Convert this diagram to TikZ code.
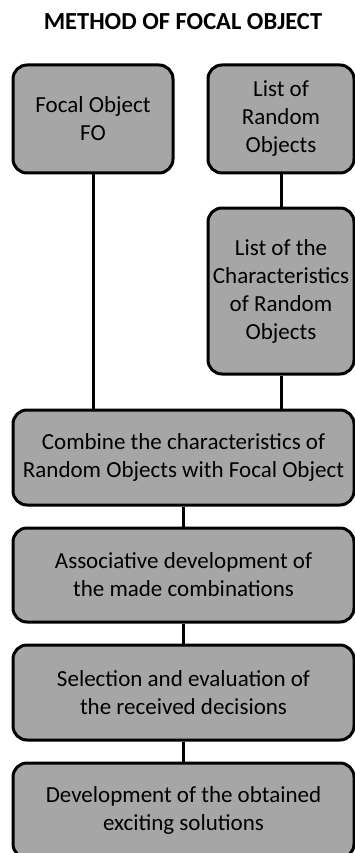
\documentclass[tikz,border=0pt]{standalone}
\usepackage{fontspec}
\setmainfont{Carlito}
\usepackage{tikz}
\definecolor{boxgray}{RGB}{166,166,166}

\begin{document}
\begin{tikzpicture}[x=1pt,y=-1pt]
    \tikzset{block/.style = {shape=rectangle,draw,fill=boxgray,line width=3pt,rounded corners=14pt,align=center,inner sep=0pt,font=\fontsize{23}{28}\selectfont}}
    \tikzset{link/.style = {line width=3pt}}
    \useasboundingbox (0,0) rectangle (354,853);
    % title
    \node[font=\bfseries\fontsize{24.5}{28}\selectfont] (title) at (183,22) {METHOD OF FOCAL OBJECT};
    % blocks
    \node[block,minimum width=160pt,minimum height=108pt] (FO) at (93,119) {Focal Object\\FO};
    \node[block,minimum width=146pt,minimum height=108pt] (RO) at (281,119) {List of\\Random\\Objects};
    \node[block,minimum width=146pt,minimum height=166pt] (CH) at (281,291) {List of the\\Characteristics\\of Random\\Objects};
    \node[block,minimum width=341pt,minimum height=95pt] (C1) at (183.5,457.5) {Combine the characteristics of\\Random Objects with Focal Object};
    \node[block,minimum width=341pt,minimum height=94pt] (C2) at (183.5,575) {Associative development of\\the made combinations};
    \node[block,minimum width=341pt,minimum height=95pt] (C3) at (183.5,692.5) {Selection and evaluation of\\the received decisions};
    \node[block,minimum width=341pt,minimum height=95pt] (C4) at (183.5,810.5) {Development of the obtained\\exciting solutions};
    % links
    \draw[link] (FO) -- (FO |- C1.north);
    \draw[link] (RO) -- (CH);
    \draw[link] (CH) -- (CH |- C1.north);
    \draw[link] (C1) -- (C2);
    \draw[link] (C2) -- (C3);
    \draw[link] (C3) -- (C4);
\end{tikzpicture}
\end{document}
